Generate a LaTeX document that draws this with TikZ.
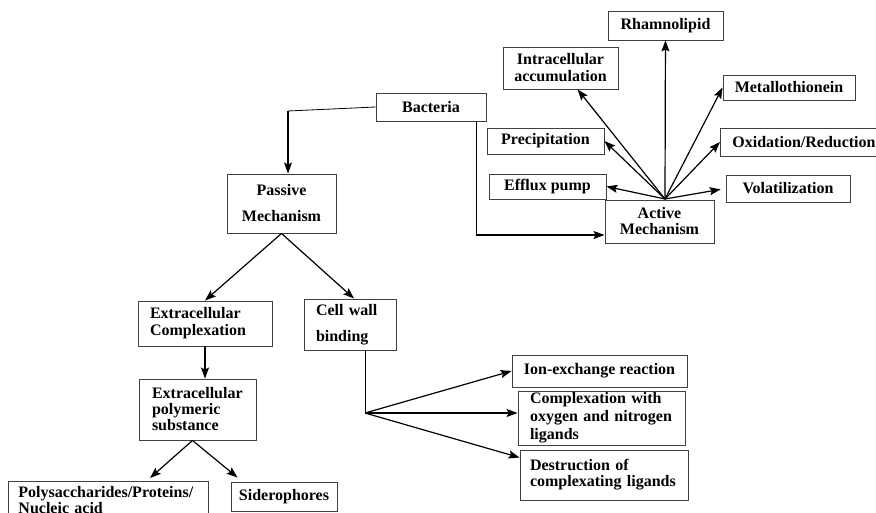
\documentclass[tikz,border=0pt]{standalone}
\usepackage{fontspec}
\setmainfont{Liberation Serif}
\usetikzlibrary{arrows.meta,calc}
\hyphenpenalty=10000
\exhyphenpenalty=10000
\begin{document}
\begin{tikzpicture}[x=1pt,y=-1pt,
  box/.style={draw=black!75, line width=0.9pt, rectangle, inner sep=0pt, align=center},
  fs/.style={font=\bfseries\fontsize{16}{#1}\selectfont},
  sz/.style 2 args={minimum width=#1pt, minimum height=#2pt},
  lbox/.style n args={3}{text width=#1pt, inner xsep=#2pt, minimum height=#3pt, align=left},
  arr/.style={line width=1.2pt, -{Stealth[length=11pt,width=8pt,inset=2pt]}},
  ln/.style={line width=0.8pt}]
\useasboundingbox (0,0) rectangle (876,513);

% nodes
\node[box,fs=17,sz={110}{28}] (bact) at (431,107) {Bacteria};
\node[box,fs=17,sz={115}{29}] (rham) at (665.5,25.5) {Rhamnolipid};
\node[box,fs=17,sz={115}{42}] (intra) at (560.5,68) {Intracellular\\accumulation};
\node[box,fs=17,sz={132}{25}] (metal) at (789,87.5) {Metallothionein};
\node[box,fs=17,sz={117}{26}] (precip) at (545.5,141) {Precipitation};
\node[box,fs=17,anchor=west,inner xsep=12pt,minimum height=28pt] (oxid) at (720,142) {Oxidation/Reduction};
\node[box,fs=17,sz={117}{25}] (efflux) at (547.5,186.5) {Efflux pump};
\node[box,fs=17,sz={124}{27}] (volat) at (788,188.5) {Volatilization};
\node[box,fs=16,sz={109}{43}] (active) at (659.5,221.5) {Active\\Mechanism};
\node[box,fs=26,sz={109}{59}] (passive) at (281.5,203.5) {Passive\\Mechanism};
\node[box,fs=17,lbox={110}{12}{45}] (excomp) at (205,323.5) {Extracellular\\Complexation};
\node[box,fs=26,lbox={68}{12}{51}] (cellwall) at (350,324.5) {Cell wall\\binding};
\node[box,fs=16,lbox={91}{13}{61}] (eps) at (197.5,409.5) {Extracellular\\polymeric\\substance};
\node[box,fs=14,lbox={180}{10}{37},anchor=north west,inner ysep=0pt] (poly) at (8,481) {Polysaccharides/Proteins/\\Nucleic acid};
\node[box,fs=17,sz={106}{29}] (sid) at (284,496.5) {Siderophores};
\node[box,fs=17,sz={175}{32}] (ion) at (599.5,371) {Ion-exchange reaction};
\node[box,fs=18,lbox={143}{12}{54}] (cplx) at (601.5,418) {Complexation with\\oxygen and nitrogen\\ligands};
\node[box,fs=16,lbox={148}{10}{50}] (destr) at (604,475) {Destruction of\\complexating ligands};

% helper coordinates
\coordinate (c1) at (288,111);
\coordinate (c2) at (476,235);
\coordinate (af) at (665,199);
\coordinate (cf) at (365,413);

% Bacteria branches
\draw[ln] (bact.west) -- (c1);
\draw[arr] (c1) -- (c1 |- passive.north);
\draw[ln] (bact.south -| c2) -- (c2);
\draw[arr] (c2) -- (c2 -| active.west);

% active fan
\draw[arr] (af) -- (rham);
\draw[arr] (af) -- (intra);
\draw[arr] (af) -- (metal.west);
\draw[arr] (af) -- (precip.east);
\draw[arr] (af) -- (oxid.west);
\draw[arr] (af) -- (efflux.east);
\draw[arr, shorten >=5pt] (af) -- (volat.west);

% passive
\draw[arr] (passive.south) -- (excomp.north);
\draw[arr] (passive.south) -- ($(cellwall.north)+(4,0)$);
\draw[arr] (excomp.south) -- (excomp.south |- eps.north);
\draw[arr] ($(eps.south)+(-5,0)$) -- ($(poly.north west)+(142,-3)$);
\draw[arr] ($(eps.south)+(-5,0)$) -- ($(sid.north west)+(7,-4)$);

% cell wall fan
\draw[ln] (cellwall.south -| cf) -- (cf);
\draw[arr] (cf) -- (ion.west);
\draw[arr] (cf) -- (cf -| cplx.west);
\draw[arr] (cf) -- ($(destr.north west)+(0,8)$);
\end{tikzpicture}
\end{document}
